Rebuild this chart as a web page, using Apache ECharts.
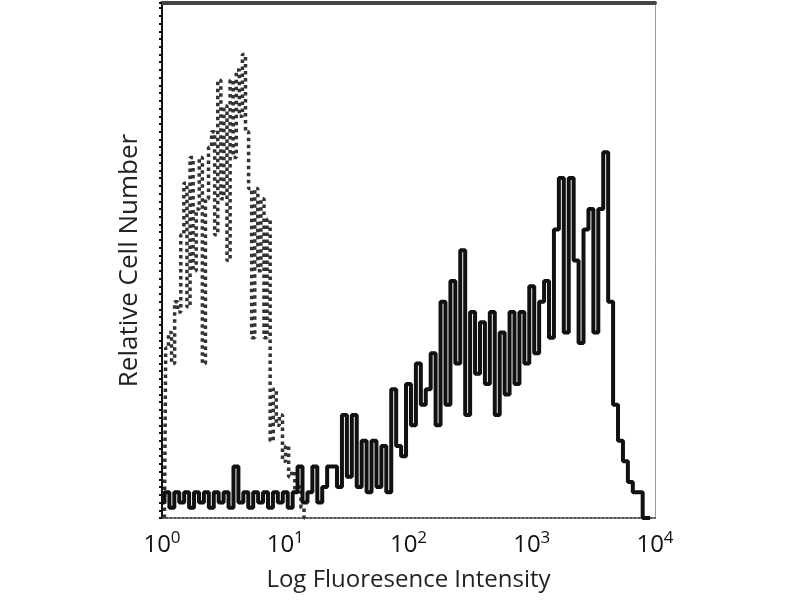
<!DOCTYPE html>
<html><head><meta charset="utf-8">
<script src="https://cdn.jsdelivr.net/npm/echarts@6/dist/echarts.min.js"></script>
<style>html,body{margin:0;padding:0;background:#fff}#c{width:800px;height:600px}</style>
</head><body><div id="c"></div>
<script>
// x values are log10 of fluorescence intensity (decade exponents)
const xTickExponents = [0, 1, 2, 3, 4];
const xAxisTitle = 'Log Fluoresence Intensity';
const yAxisTitle = 'Relative Cell Number';

// Stained sample (solid black histogram): [log10 intensity, relative count]
const stainedX = [0.00,0.04,0.08,0.12,0.16,0.20,0.24,0.28,0.32,0.36,0.40,0.44,0.48,0.52,0.56,0.60,0.64,0.68,0.72,0.76,
  0.80,0.84,0.88,0.92,0.96,1.00,1.04,1.08,1.12,1.16,1.20,1.24,1.28,1.32,1.36,1.40,1.44,1.48,1.52,1.56,
  1.60,1.64,1.68,1.72,1.76,1.80,1.84,1.88,1.92,1.96,2.00,2.04,2.08,2.12,2.16,2.20,2.24,2.28,2.32,2.36,
  2.40,2.44,2.48,2.52,2.56,2.60,2.64,2.68,2.72,2.76,2.80,2.84,2.88,2.92,2.96,3.00,3.04,3.08,3.12,3.16,
  3.20,3.24,3.28,3.32,3.36,3.40,3.44,3.48,3.52,3.56,3.60,3.64,3.68,3.72,3.76,3.80,3.84,3.88,3.92,3.96];
const stainedY = [3,5,2,5,3,5,2,5,3,5,2,5,3,5,2,10,3,5,2,5,
  3,5,2,5,3,5,2,5,10,3,5,10,3,6,10,10,6,20,8,20,
  6,15,5,15,6,14,5,25,14,12,26,18,30,22,25,32,18,42,22,46,
  30,52,20,40,28,38,26,40,20,36,24,40,26,40,30,45,32,42,46,35,
  56,66,36,66,50,34,56,60,36,60,71,42,22,15,11,7,5,5,0,0];

// Isotype control (dotted histogram)
const controlX = [0.02,0.04,0.065,0.09,0.115,0.14,0.165,0.19,0.215,0.24,0.265,0.29,0.315,0.34,0.365,0.39,0.415,0.44,0.465,0.49,
  0.515,0.54,0.565,0.59,0.615,0.64,0.665,0.69,0.715,0.74,0.765,0.79,0.815,0.84,0.865,0.89,0.915,0.94,0.965,0.99,
  1.015,1.04,1.065,1.09,1.115,1.14,1.165];
const controlY = [0,33,36,30,42,40,55,65,41,70,48,60,70,30,62,72,75,55,85,62,
  80,50,85,70,87,78,90,75,64,35,64,48,62,35,58,15,25,18,20,11,
  14,8,9,5,6,2,0];

const stained = stainedX.map((x, i) => [x, stainedY[i]]);
const control = controlX.map((x, i) => [x, controlY[i]]);

const chart = echarts.init(document.getElementById('c'));
const font = "'Open Sans', 'DejaVu Sans', sans-serif";
chart.setOption({
  backgroundColor: '#fff',
  animation: false,
  grid: { left: 162, right: 145, top: 3, bottom: 82 },
  xAxis: [{
    type: 'value', min: 0, max: 4, interval: 1, position: 'bottom',
    axisLine: { show: true, onZero: false, lineStyle: { color: '#555', width: 2, type: 'dotted' } },
    axisTick: { show: false }, splitLine: { show: false },
    axisLabel: {
      margin: 12, color: '#111', fontFamily: font, fontSize: 24,
      formatter: v => xTickExponents.indexOf(v) >= 0 ? '{b|10}{s|' + v + '}' : '',
      rich: { b: { fontSize: 24, fontFamily: font, color: '#111' },
              s: { fontSize: 17, fontFamily: font, color: '#111', padding: [0, 0, 13, 0] } }
    },
    name: xAxisTitle, nameLocation: 'middle', nameGap: 50,
    nameTextStyle: { fontSize: 24, fontFamily: font, color: '#222' }
  }, {
    type: 'value', min: 0, max: 4, position: 'top',
    axisLine: { show: true, onZero: false, lineStyle: { color: '#444', width: 4 } },
    axisTick: { show: false }, axisLabel: { show: false }, splitLine: { show: false }
  }],
  yAxis: [{
    type: 'value', min: 0, max: 100, interval: 1.5, position: 'left',
    axisLine: { show: true, onZero: false, lineStyle: { color: '#111', width: 2 } },
    axisTick: { show: true, length: 3, lineStyle: { color: '#111', width: 2 } },
    axisLabel: { show: false }, splitLine: { show: false },
    name: yAxisTitle, nameLocation: 'middle', nameGap: 19, nameRotate: 90,
    nameTextStyle: { fontSize: 26, fontFamily: font, color: '#222' }
  }, {
    type: 'value', min: 0, max: 100, position: 'right',
    axisLine: { show: true, onZero: false, lineStyle: { color: '#999', width: 1 } },
    axisTick: { show: false }, axisLabel: { show: false }, splitLine: { show: false }
  }],
  series: [{
    type: 'line', data: control, step: 'middle', symbol: 'none',
    lineStyle: { color: '#333', width: 3.5, type: 'dotted' }, z: 2
  }, {
    type: 'line', data: stained, step: 'middle', symbol: 'none',
    lineStyle: { color: '#111', width: 4 }, z: 3
  }]
});
</script></body></html>
